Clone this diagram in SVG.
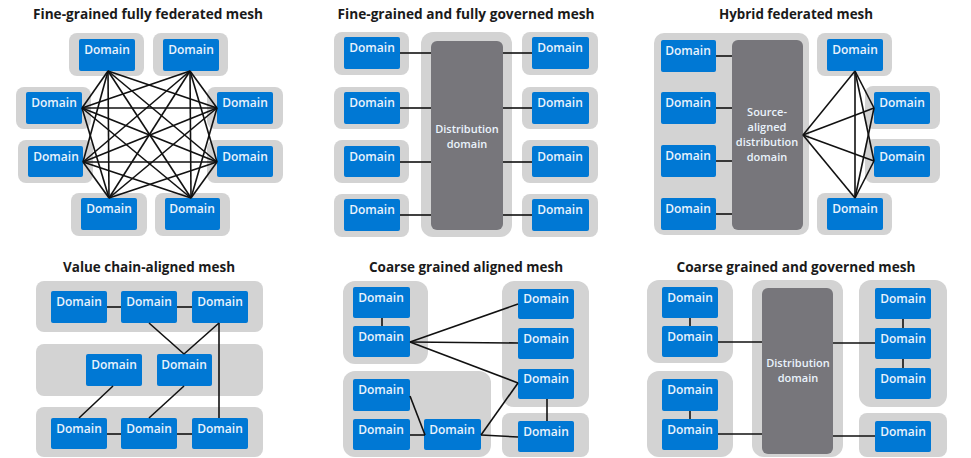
<svg xmlns="http://www.w3.org/2000/svg" width="971" height="458" viewBox="0 0 971 458">
<style>
.bg{fill:#ffffff}
.g{fill:#d3d3d3}
.b{fill:#0078d4}
.d{fill:#77767b}
.t{font-family:"Open Sans","Liberation Sans",sans-serif;font-weight:600;font-size:12px;fill:#eaf3fc;text-anchor:middle}
.m{font-size:11px}
.h{font-family:"Open Sans","Liberation Sans",sans-serif;font-weight:700;font-size:14px;fill:#1a1a1a;text-anchor:middle}
.c line{stroke:#111;stroke-width:1.6;fill:none}
</style>
<rect class="bg" x="0" y="0" width="971" height="458"/>
<!-- Titles -->
<g id="titles">
<text class="h" x="148" y="19" textLength="230" lengthAdjust="spacingAndGlyphs">Fine-grained fully federated mesh</text>
<text class="h" x="466" y="19" textLength="257" lengthAdjust="spacingAndGlyphs">Fine-grained and fully governed mesh</text>
<text class="h" x="796" y="19" textLength="154" lengthAdjust="spacingAndGlyphs">Hybrid federated mesh</text>
<text class="h" x="149" y="272" textLength="172" lengthAdjust="spacingAndGlyphs">Value chain-aligned mesh</text>
<text class="h" x="466" y="272" textLength="194" lengthAdjust="spacingAndGlyphs">Coarse grained aligned mesh</text>
<text class="h" x="796" y="272" textLength="239" lengthAdjust="spacingAndGlyphs">Coarse grained and governed mesh</text>
</g>

<!-- Panel 1 -->
<g id="p1n1"><rect class="g" x="69" y="33" width="75" height="43" rx="8"/><rect class="b" x="79" y="39" width="56" height="32" rx="2"/><text class="t" x="107" y="54">Domain</text></g>
<g id="p1n2"><rect class="g" x="153" y="33" width="75" height="43" rx="8"/><rect class="b" x="163" y="39" width="56" height="32" rx="2"/><text class="t" x="191" y="54">Domain</text></g>
<g id="p1n3"><rect class="g" x="16" y="87" width="75" height="42" rx="8"/><rect class="b" x="26" y="92" width="56" height="32" rx="2"/><text class="t" x="54" y="107">Domain</text></g>
<g id="p1n4"><rect class="g" x="207" y="87" width="76" height="42" rx="8"/><rect class="b" x="217" y="92" width="56" height="32" rx="2"/><text class="t" x="245" y="107">Domain</text></g>
<g id="p1n5"><rect class="g" x="18" y="140" width="75" height="43" rx="8"/><rect class="b" x="28" y="146" width="55" height="31" rx="2"/><text class="t" x="56" y="161">Domain</text></g>
<g id="p1n6"><rect class="g" x="207" y="140" width="76" height="43" rx="8"/><rect class="b" x="217" y="146" width="56" height="31" rx="2"/><text class="t" x="245" y="161">Domain</text></g>
<g id="p1n7"><rect class="g" x="71" y="193" width="76" height="43" rx="8"/><rect class="b" x="81" y="198" width="56" height="32" rx="2"/><text class="t" x="109" y="213">Domain</text></g>
<g id="p1n8"><rect class="g" x="155" y="193" width="75" height="43" rx="8"/><rect class="b" x="165" y="198" width="55" height="32" rx="2"/><text class="t" x="192" y="213">Domain</text></g>

<!-- Panel 2 -->
<g id="p2dist"><rect class="g" x="421" y="32" width="91" height="205" rx="12"/><rect class="d" x="431" y="41" width="72" height="189" rx="6"/><text class="t m" x="467" y="133">Distribution<tspan x="467" dy="15">domain</tspan></text></g>
<g id="p2l1"><rect class="g" x="334" y="32" width="75" height="43" rx="8"/><rect class="b" x="344" y="37" width="56" height="32" rx="2"/><text class="t" x="372" y="52">Domain</text></g>
<g id="p2l2"><rect class="g" x="334" y="87" width="75" height="42" rx="8"/><rect class="b" x="344" y="92" width="56" height="32" rx="2"/><text class="t" x="372" y="107">Domain</text></g>
<g id="p2l3"><rect class="g" x="334" y="140" width="75" height="43" rx="8"/><rect class="b" x="344" y="146" width="56" height="31" rx="2"/><text class="t" x="372" y="161">Domain</text></g>
<g id="p2l4"><rect class="g" x="334" y="194" width="75" height="43" rx="8"/><rect class="b" x="344" y="199" width="56" height="32" rx="2"/><text class="t" x="372" y="214">Domain</text></g>
<g id="p2r1"><rect class="g" x="522" y="32" width="76" height="43" rx="8"/><rect class="b" x="532" y="37" width="57" height="32" rx="2"/><text class="t" x="560" y="52">Domain</text></g>
<g id="p2r2"><rect class="g" x="522" y="87" width="76" height="42" rx="8"/><rect class="b" x="532" y="92" width="57" height="32" rx="2"/><text class="t" x="560" y="107">Domain</text></g>
<g id="p2r3"><rect class="g" x="522" y="140" width="76" height="43" rx="8"/><rect class="b" x="532" y="146" width="57" height="31" rx="2"/><text class="t" x="560" y="161">Domain</text></g>
<g id="p2r4"><rect class="g" x="522" y="194" width="76" height="43" rx="8"/><rect class="b" x="532" y="199" width="57" height="32" rx="2"/><text class="t" x="560" y="214">Domain</text></g>

<!-- Panel 3 -->
<g id="p3src"><rect class="g" x="654" y="33" width="155" height="202" rx="10"/>
<rect class="b" x="661" y="40" width="55" height="32" rx="2"/><text class="t" x="688" y="55">Domain</text>
<rect class="b" x="661" y="92" width="55" height="32" rx="2"/><text class="t" x="688" y="107">Domain</text>
<rect class="b" x="661" y="145" width="55" height="32" rx="2"/><text class="t" x="688" y="160">Domain</text>
<rect class="b" x="661" y="198" width="55" height="32" rx="2"/><text class="t" x="688" y="213">Domain</text>
<rect class="d" x="732" y="40" width="71" height="190" rx="6"/>
<text class="t m" x="767" y="116">Source-<tspan x="767" dy="15">aligned</tspan><tspan x="767" dy="15">distribution</tspan><tspan x="767" dy="15">domain</tspan></text></g>
<g id="p3n1"><rect class="g" x="817" y="33" width="75" height="43" rx="8"/><rect class="b" x="827" y="39" width="56" height="32" rx="2"/><text class="t" x="855" y="54">Domain</text></g>
<g id="p3n2"><rect class="g" x="865" y="86" width="75" height="43" rx="8"/><rect class="b" x="874" y="92" width="56" height="32" rx="2"/><text class="t" x="902" y="107">Domain</text></g>
<g id="p3n3"><rect class="g" x="865" y="139" width="75" height="44" rx="8"/><rect class="b" x="874" y="146" width="56" height="31" rx="2"/><text class="t" x="902" y="161">Domain</text></g>
<g id="p3n4"><rect class="g" x="817" y="193" width="75" height="42" rx="8"/><rect class="b" x="827" y="198" width="56" height="32" rx="2"/><text class="t" x="855" y="213">Domain</text></g>

<!-- Panel 4 -->
<g id="p4band1"><rect class="g" x="36" y="281" width="227" height="51" rx="8"/>
<rect class="b" x="51" y="291" width="56" height="32" rx="2"/><text class="t" x="79" y="306">Domain</text>
<rect class="b" x="121" y="291" width="56" height="32" rx="2"/><text class="t" x="149" y="306">Domain</text>
<rect class="b" x="192" y="291" width="56" height="32" rx="2"/><text class="t" x="220" y="306">Domain</text></g>
<g id="p4band2"><rect class="g" x="36" y="344" width="227" height="52" rx="8"/>
<rect class="b" x="86" y="354" width="56" height="32" rx="2"/><text class="t" x="114" y="369">Domain</text>
<rect class="b" x="157" y="354" width="55" height="32" rx="2"/><text class="t" x="184" y="369">Domain</text></g>
<g id="p4band3"><rect class="g" x="36" y="407" width="227" height="50" rx="8"/>
<rect class="b" x="51" y="418" width="56" height="31" rx="2"/><text class="t" x="79" y="433">Domain</text>
<rect class="b" x="121" y="418" width="56" height="31" rx="2"/><text class="t" x="149" y="433">Domain</text>
<rect class="b" x="192" y="418" width="56" height="31" rx="2"/><text class="t" x="220" y="433">Domain</text></g>

<!-- Panel 5 -->
<g id="p5tl"><rect class="g" x="343" y="281" width="85" height="83" rx="12"/>
<rect class="b" x="353" y="287" width="57" height="31" rx="2"/><text class="t" x="381" y="302">Domain</text>
<rect class="b" x="353" y="326" width="57" height="31" rx="2"/><text class="t" x="381" y="341">Domain</text></g>
<g id="p5bl"><rect class="g" x="343" y="371" width="148" height="86" rx="12"/>
<rect class="b" x="353" y="379" width="57" height="32" rx="2"/><text class="t" x="381" y="394">Domain</text>
<rect class="b" x="353" y="419" width="57" height="31" rx="2"/><text class="t" x="381" y="434">Domain</text>
<rect class="b" x="424" y="419" width="57" height="31" rx="2"/><text class="t" x="452" y="434">Domain</text></g>
<g id="p5r"><rect class="g" x="502" y="281" width="87" height="126" rx="12"/>
<rect class="b" x="518" y="289" width="56" height="30" rx="2"/><text class="t" x="546" y="303">Domain</text>
<rect class="b" x="518" y="328" width="56" height="31" rx="2"/><text class="t" x="546" y="343">Domain</text>
<rect class="b" x="518" y="369" width="56" height="30" rx="2"/><text class="t" x="546" y="383">Domain</text></g>
<g id="p5br"><rect class="g" x="502" y="413" width="87" height="44" rx="8"/>
<rect class="b" x="518" y="421" width="56" height="31" rx="2"/><text class="t" x="546" y="436">Domain</text></g>

<!-- Panel 6 -->
<g id="p6tl"><rect class="g" x="647" y="280" width="86" height="83" rx="12"/>
<rect class="b" x="662" y="287" width="56" height="31" rx="2"/><text class="t" x="690" y="302">Domain</text>
<rect class="b" x="662" y="326" width="56" height="31" rx="2"/><text class="t" x="690" y="341">Domain</text></g>
<g id="p6bl"><rect class="g" x="647" y="371" width="86" height="86" rx="12"/>
<rect class="b" x="662" y="379" width="56" height="32" rx="2"/><text class="t" x="690" y="394">Domain</text>
<rect class="b" x="662" y="419" width="56" height="31" rx="2"/><text class="t" x="690" y="434">Domain</text></g>
<g id="p6dist"><rect class="g" x="752" y="280" width="91" height="177" rx="12"/><rect class="d" x="762" y="288" width="71" height="166" rx="6"/>
<text class="t m" x="798" y="367">Distribution<tspan x="798" dy="15">domain</tspan></text></g>
<g id="p6r"><rect class="g" x="859" y="280" width="88" height="127" rx="12"/>
<rect class="b" x="875" y="288" width="56" height="31" rx="2"/><text class="t" x="903" y="303">Domain</text>
<rect class="b" x="875" y="328" width="56" height="31" rx="2"/><text class="t" x="903" y="343">Domain</text>
<rect class="b" x="875" y="368" width="56" height="31" rx="2"/><text class="t" x="903" y="383">Domain</text></g>
<g id="p6br"><rect class="g" x="859" y="413" width="88" height="44" rx="8"/>
<rect class="b" x="875" y="421" width="56" height="31" rx="2"/><text class="t" x="903" y="436">Domain</text></g>

<!-- Connectors -->
<g id="connectors" class="c">
<line x1="108" y1="71" x2="82" y2="108"/>
<line x1="108" y1="71" x2="217" y2="108"/>
<line x1="108" y1="71" x2="83" y2="162"/>
<line x1="108" y1="71" x2="217" y2="162"/>
<line x1="108" y1="71" x2="109" y2="198"/>
<line x1="108" y1="71" x2="191" y2="198"/>
<line x1="190" y1="71" x2="82" y2="108"/>
<line x1="190" y1="71" x2="217" y2="108"/>
<line x1="190" y1="71" x2="83" y2="162"/>
<line x1="190" y1="71" x2="217" y2="162"/>
<line x1="190" y1="71" x2="109" y2="198"/>
<line x1="190" y1="71" x2="191" y2="198"/>
<line x1="82" y1="108" x2="217" y2="108"/>
<line x1="82" y1="108" x2="217" y2="162"/>
<line x1="82" y1="108" x2="109" y2="198"/>
<line x1="82" y1="108" x2="191" y2="198"/>
<line x1="217" y1="108" x2="83" y2="162"/>
<line x1="217" y1="108" x2="109" y2="198"/>
<line x1="217" y1="108" x2="191" y2="198"/>
<line x1="83" y1="162" x2="217" y2="162"/>
<line x1="83" y1="162" x2="109" y2="198"/>
<line x1="83" y1="162" x2="191" y2="198"/>
<line x1="217" y1="162" x2="109" y2="198"/>
<line x1="217" y1="162" x2="191" y2="198"/>
<line x1="400" y1="53" x2="431" y2="53"/>
<line x1="400" y1="108" x2="431" y2="108"/>
<line x1="400" y1="162" x2="431" y2="162"/>
<line x1="400" y1="215" x2="431" y2="215"/>
<line x1="503" y1="53" x2="532" y2="53"/>
<line x1="503" y1="108" x2="532" y2="108"/>
<line x1="503" y1="162" x2="532" y2="162"/>
<line x1="503" y1="215" x2="532" y2="215"/>
<line x1="716" y1="56" x2="732" y2="56"/>
<line x1="716" y1="108" x2="732" y2="108"/>
<line x1="716" y1="161" x2="732" y2="161"/>
<line x1="716" y1="214" x2="732" y2="214"/>
<line x1="803" y1="135" x2="855" y2="71"/>
<line x1="803" y1="135" x2="874" y2="108"/>
<line x1="803" y1="135" x2="874" y2="161"/>
<line x1="803" y1="135" x2="855" y2="198"/>
<line x1="855" y1="71" x2="874" y2="108"/>
<line x1="855" y1="71" x2="874" y2="161"/>
<line x1="855" y1="71" x2="855" y2="198"/>
<line x1="855" y1="198" x2="874" y2="108"/>
<line x1="855" y1="198" x2="874" y2="161"/>
<line x1="107" y1="307" x2="121" y2="307"/>
<line x1="177" y1="307" x2="192" y2="307"/>
<line x1="149" y1="323" x2="184" y2="354"/>
<line x1="219" y1="323" x2="184" y2="354"/>
<line x1="219" y1="323" x2="219" y2="418"/>
<line x1="113" y1="386" x2="79" y2="418"/>
<line x1="184" y1="386" x2="149" y2="418"/>
<line x1="107" y1="434" x2="121" y2="434"/>
<line x1="177" y1="434" x2="192" y2="434"/>
<line x1="382" y1="318" x2="382" y2="326"/>
<line x1="410" y1="342" x2="518" y2="304"/>
<line x1="410" y1="342" x2="518" y2="343"/>
<line x1="410" y1="342" x2="518" y2="383"/>
<line x1="547" y1="399" x2="547" y2="421"/>
<line x1="410" y1="396" x2="425" y2="435"/>
<line x1="410" y1="435" x2="425" y2="435"/>
<line x1="481" y1="435" x2="518" y2="383"/>
<line x1="481" y1="435" x2="518" y2="437"/>
<line x1="690" y1="318" x2="690" y2="326"/>
<line x1="690" y1="411" x2="690" y2="419"/>
<line x1="903" y1="319" x2="903" y2="328"/>
<line x1="903" y1="359" x2="903" y2="368"/>
<line x1="718" y1="342" x2="762" y2="342"/>
<line x1="833" y1="343" x2="875" y2="343"/>
<line x1="718" y1="434" x2="762" y2="434"/>
<line x1="833" y1="436" x2="875" y2="436"/>
</g>
</svg>
